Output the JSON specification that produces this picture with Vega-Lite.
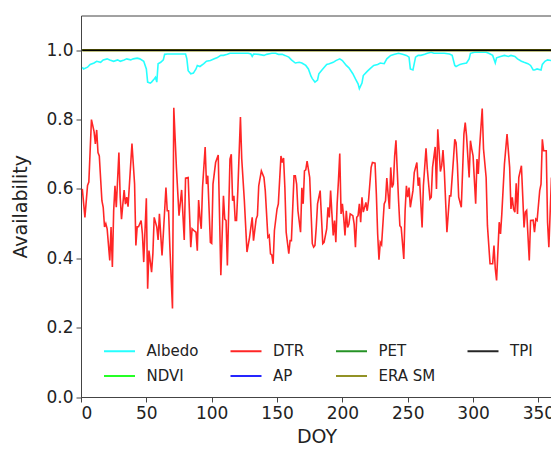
{
  "$schema": "https://vega.github.io/schema/vega-lite/v6.json",
  "width": 471,
  "height": 381.5,
  "autosize": {"type": "none"},
  "padding": {"left": 81, "top": 15.5, "right": 0, "bottom": 52},
  "background": "white",
  "config": {
    "view": {"stroke": "#444", "strokeWidth": 1},
    "font": "DejaVu Sans",
    "axis": {"labelFont": "DejaVu Sans", "titleFont": "DejaVu Sans", "labelColor": "#222", "titleColor": "#222", "domainColor": "#444", "tickColor": "#444", "grid": false, "labelFontSize": 17, "titleFontSize": 19, "titleFontWeight": "normal", "tickSize": 5, "labelPadding": 3}
  },
  "datasets": {
    "albedo": [
      {"doy":1,"value":0.951},{"doy":2,"value":0.946},{"doy":5,"value":0.951},{"doy":7,"value":0.959},{"doy":10,"value":0.963},{"doy":12,"value":0.968},{"doy":15,"value":0.965},{"doy":17,"value":0.972},{"doy":20,"value":0.975},{"doy":22,"value":0.972},{"doy":25,"value":0.968},{"doy":28,"value":0.972},{"doy":30,"value":0.968},{"doy":33,"value":0.972},{"doy":35,"value":0.975},{"doy":38,"value":0.972},{"doy":40,"value":0.975},{"doy":43,"value":0.977},{"doy":45,"value":0.975},{"doy":48,"value":0.968},{"doy":50,"value":0.946},{"doy":51,"value":0.908},{"doy":53,"value":0.905},{"doy":54,"value":0.908},{"doy":56,"value":0.917},{"doy":57,"value":0.922},{"doy":58,"value":0.908},{"doy":59,"value":0.961},{"doy":61,"value":0.965},{"doy":63,"value":0.972},{"doy":64,"value":0.988},{"doy":66,"value":0.989},{"doy":71,"value":0.989},{"doy":76,"value":0.989},{"doy":80,"value":0.989},{"doy":81,"value":0.975},{"doy":82,"value":0.941},{"doy":84,"value":0.932},{"doy":86,"value":0.934},{"doy":88,"value":0.946},{"doy":89,"value":0.956},{"doy":91,"value":0.953},{"doy":94,"value":0.961},{"doy":96,"value":0.968},{"doy":99,"value":0.97},{"doy":102,"value":0.975},{"doy":104,"value":0.978},{"doy":107,"value":0.985},{"doy":109,"value":0.985},{"doy":112,"value":0.988},{"doy":114,"value":0.991},{"doy":119,"value":0.991},{"doy":125,"value":0.991},{"doy":128,"value":0.991},{"doy":130,"value":0.989},{"doy":131,"value":0.982},{"doy":132,"value":0.989},{"doy":136,"value":0.988},{"doy":140,"value":0.985},{"doy":142,"value":0.988},{"doy":146,"value":0.991},{"doy":149,"value":0.991},{"doy":151,"value":0.988},{"doy":154,"value":0.988},{"doy":156,"value":0.985},{"doy":159,"value":0.98},{"doy":161,"value":0.972},{"doy":164,"value":0.963},{"doy":167,"value":0.965},{"doy":169,"value":0.963},{"doy":172,"value":0.956},{"doy":174,"value":0.946},{"doy":176,"value":0.925},{"doy":177,"value":0.918},{"doy":179,"value":0.908},{"doy":181,"value":0.914},{"doy":182,"value":0.932},{"doy":185,"value":0.946},{"doy":188,"value":0.959},{"doy":190,"value":0.961},{"doy":193,"value":0.965},{"doy":195,"value":0.97},{"doy":198,"value":0.975},{"doy":200,"value":0.97},{"doy":203,"value":0.956},{"doy":205,"value":0.949},{"doy":208,"value":0.932},{"doy":210,"value":0.917},{"doy":212,"value":0.903},{"doy":213,"value":0.889},{"doy":215,"value":0.905},{"doy":216,"value":0.927},{"doy":219,"value":0.939},{"doy":221,"value":0.946},{"doy":224,"value":0.956},{"doy":227,"value":0.959},{"doy":229,"value":0.963},{"doy":232,"value":0.961},{"doy":234,"value":0.975},{"doy":237,"value":0.985},{"doy":240,"value":0.988},{"doy":243,"value":0.991},{"doy":246,"value":0.988},{"doy":249,"value":0.985},{"doy":251,"value":0.98},{"doy":252,"value":0.946},{"doy":254,"value":0.943},{"doy":256,"value":0.98},{"doy":258,"value":0.985},{"doy":260,"value":0.985},{"doy":263,"value":0.988},{"doy":265,"value":0.991},{"doy":268,"value":0.994},{"doy":270,"value":0.991},{"doy":274,"value":0.991},{"doy":278,"value":0.991},{"doy":282,"value":0.989},{"doy":284,"value":0.985},{"doy":286,"value":0.956},{"doy":287,"value":0.953},{"doy":290,"value":0.959},{"doy":292,"value":0.961},{"doy":295,"value":0.963},{"doy":297,"value":0.975},{"doy":298,"value":0.991},{"doy":301,"value":0.994},{"doy":306,"value":0.994},{"doy":310,"value":0.994},{"doy":312,"value":0.991},{"doy":315,"value":0.985},{"doy":317,"value":0.963},{"doy":318,"value":0.978},{"doy":321,"value":0.982},{"doy":324,"value":0.985},{"doy":327,"value":0.982},{"doy":329,"value":0.985},{"doy":332,"value":0.982},{"doy":334,"value":0.975},{"doy":337,"value":0.968},{"doy":339,"value":0.965},{"doy":342,"value":0.961},{"doy":344,"value":0.956},{"doy":346,"value":0.943},{"doy":347,"value":0.943},{"doy":349,"value":0.946},{"doy":352,"value":0.943},{"doy":353,"value":0.959},{"doy":355,"value":0.968},{"doy":357,"value":0.972},{"doy":360,"value":0.97}
    ],
    "dtr": [
      {"doy":1,"value":0.60},{"doy":3,"value":0.518},{"doy":5,"value":0.61},{"doy":6,"value":0.62},{"doy":8,"value":0.80},{"doy":10,"value":0.765},{"doy":11,"value":0.73},{"doy":12,"value":0.77},{"doy":13,"value":0.705},{"doy":14,"value":0.695},{"doy":16,"value":0.566},{"doy":17,"value":0.547},{"doy":18,"value":0.49},{"doy":19,"value":0.50},{"doy":20,"value":0.485},{"doy":22,"value":0.394},{"doy":23,"value":0.49},{"doy":24,"value":0.375},{"doy":25,"value":0.537},{"doy":26,"value":0.609},{"doy":27,"value":0.547},{"doy":29,"value":0.705},{"doy":30,"value":0.576},{"doy":31,"value":0.513},{"doy":33,"value":0.597},{"doy":34,"value":0.556},{"doy":35,"value":0.576},{"doy":36,"value":0.549},{"doy":39,"value":0.731},{"doy":41,"value":0.614},{"doy":42,"value":0.437},{"doy":43,"value":0.491},{"doy":44,"value":0.491},{"doy":46,"value":0.509},{"doy":47,"value":0.47},{"doy":48,"value":0.389},{"doy":50,"value":0.573},{"doy":51,"value":0.312},{"doy":52,"value":0.422},{"doy":54,"value":0.36},{"doy":55,"value":0.413},{"doy":56,"value":0.518},{"doy":58,"value":0.49},{"doy":59,"value":0.453},{"doy":60,"value":0.528},{"doy":62,"value":0.408},{"doy":63,"value":0.47},{"doy":65,"value":0.604},{"doy":66,"value":0.537},{"doy":67,"value":0.537},{"doy":68,"value":0.432},{"doy":70,"value":0.255},{"doy":71,"value":0.834},{"doy":73,"value":0.662},{"doy":75,"value":0.523},{"doy":77,"value":0.597},{"doy":79,"value":0.453},{"doy":80,"value":0.631},{"doy":82,"value":0.633},{"doy":83,"value":0.533},{"doy":84,"value":0.432},{"doy":85,"value":0.485},{"doy":87,"value":0.478},{"doy":88,"value":0.475},{"doy":89,"value":0.422},{"doy":90,"value":0.568},{"doy":91,"value":0.518},{"doy":92,"value":0.485},{"doy":93,"value":0.604},{"doy":95,"value":0.721},{"doy":96,"value":0.614},{"doy":97,"value":0.638},{"doy":99,"value":0.446},{"doy":100,"value":0.443},{"doy":101,"value":0.614},{"doy":103,"value":0.676},{"doy":105,"value":0.698},{"doy":107,"value":0.351},{"doy":109,"value":0.58},{"doy":110,"value":0.513},{"doy":111,"value":0.509},{"doy":112,"value":0.379},{"doy":114,"value":0.686},{"doy":115,"value":0.70},{"doy":116,"value":0.566},{"doy":117,"value":0.58},{"doy":118,"value":0.509},{"doy":119,"value":0.509},{"doy":120,"value":0.595},{"doy":122,"value":0.807},{"doy":123,"value":0.686},{"doy":125,"value":0.566},{"doy":127,"value":0.418},{"doy":129,"value":0.461},{"doy":131,"value":0.518},{"doy":132,"value":0.451},{"doy":134,"value":0.513},{"doy":135,"value":0.523},{"doy":136,"value":0.609},{"doy":138,"value":0.652},{"doy":140,"value":0.633},{"doy":141,"value":0.595},{"doy":143,"value":0.461},{"doy":144,"value":0.466},{"doy":145,"value":0.413},{"doy":146,"value":0.41},{"doy":147,"value":0.384},{"doy":148,"value":0.48},{"doy":150,"value":0.542},{"doy":151,"value":0.557},{"doy":153,"value":0.695},{"doy":154,"value":0.676},{"doy":155,"value":0.689},{"doy":156,"value":0.604},{"doy":157,"value":0.475},{"doy":159,"value":0.413},{"doy":160,"value":0.451},{"doy":161,"value":0.451},{"doy":163,"value":0.638},{"doy":164,"value":0.638},{"doy":165,"value":0.614},{"doy":166,"value":0.537},{"doy":168,"value":0.475},{"doy":169,"value":0.603},{"doy":170,"value":0.557},{"doy":171,"value":0.652},{"doy":172,"value":0.655},{"doy":173,"value":0.68},{"doy":175,"value":0.633},{"doy":177,"value":0.442},{"doy":178,"value":0.432},{"doy":179,"value":0.437},{"doy":180,"value":0.489},{"doy":181,"value":0.557},{"doy":183,"value":0.595},{"doy":184,"value":0.518},{"doy":185,"value":0.442},{"doy":186,"value":0.446},{"doy":188,"value":0.485},{"doy":189,"value":0.547},{"doy":190,"value":0.518},{"doy":191,"value":0.595},{"doy":192,"value":0.528},{"doy":193,"value":0.466},{"doy":194,"value":0.509},{"doy":195,"value":0.446},{"doy":196,"value":0.557},{"doy":197,"value":0.624},{"doy":198,"value":0.702},{"doy":199,"value":0.528},{"doy":200,"value":0.557},{"doy":201,"value":0.518},{"doy":202,"value":0.466},{"doy":203,"value":0.537},{"doy":204,"value":0.489},{"doy":205,"value":0.499},{"doy":206,"value":0.528},{"doy":208,"value":0.523},{"doy":209,"value":0.499},{"doy":210,"value":0.432},{"doy":211,"value":0.518},{"doy":212,"value":0.523},{"doy":213,"value":0.557},{"doy":214,"value":0.504},{"doy":215,"value":0.576},{"doy":216,"value":0.533},{"doy":218,"value":0.561},{"doy":219,"value":0.537},{"doy":220,"value":0.566},{"doy":222,"value":0.662},{"doy":223,"value":0.676},{"doy":225,"value":0.674},{"doy":226,"value":0.585},{"doy":227,"value":0.47},{"doy":228,"value":0.396},{"doy":229,"value":0.446},{"doy":230,"value":0.439},{"doy":232,"value":0.557},{"doy":233,"value":0.566},{"doy":234,"value":0.631},{"doy":235,"value":0.585},{"doy":236,"value":0.542},{"doy":237,"value":0.662},{"doy":238,"value":0.604},{"doy":239,"value":0.614},{"doy":240,"value":0.695},{"doy":241,"value":0.74},{"doy":242,"value":0.652},{"doy":243,"value":0.566},{"doy":244,"value":0.494},{"doy":245,"value":0.489},{"doy":247,"value":0.398},{"doy":248,"value":0.537},{"doy":249,"value":0.609},{"doy":250,"value":0.576},{"doy":251,"value":0.604},{"doy":252,"value":0.547},{"doy":254,"value":0.595},{"doy":255,"value":0.647},{"doy":257,"value":0.676},{"doy":258,"value":0.609},{"doy":259,"value":0.633},{"doy":261,"value":0.489},{"doy":262,"value":0.609},{"doy":264,"value":0.717},{"doy":265,"value":0.657},{"doy":267,"value":0.571},{"doy":268,"value":0.576},{"doy":269,"value":0.662},{"doy":271,"value":0.721},{"doy":272,"value":0.60},{"doy":273,"value":0.772},{"doy":275,"value":0.65},{"doy":276,"value":0.667},{"doy":277,"value":0.712},{"doy":278,"value":0.652},{"doy":280,"value":0.475},{"doy":281,"value":0.528},{"doy":282,"value":0.58},{"doy":283,"value":0.58},{"doy":285,"value":0.686},{"doy":286,"value":0.743},{"doy":287,"value":0.733},{"doy":288,"value":0.671},{"doy":289,"value":0.576},{"doy":291,"value":0.547},{"doy":293,"value":0.758},{"doy":294,"value":0.791},{"doy":295,"value":0.753},{"doy":297,"value":0.633},{"doy":298,"value":0.739},{"doy":299,"value":0.715},{"doy":300,"value":0.695},{"doy":302,"value":0.557},{"doy":303,"value":0.686},{"doy":304,"value":0.643},{"doy":305,"value":0.719},{"doy":307,"value":0.832},{"doy":308,"value":0.715},{"doy":310,"value":0.633},{"doy":311,"value":0.494},{"doy":313,"value":0.384},{"doy":315,"value":0.384},{"doy":316,"value":0.437},{"doy":317,"value":0.37},{"doy":318,"value":0.336},{"doy":320,"value":0.504},{"doy":321,"value":0.47},{"doy":322,"value":0.528},{"doy":324,"value":0.671},{"doy":326,"value":0.758},{"doy":328,"value":0.662},{"doy":329,"value":0.542},{"doy":330,"value":0.576},{"doy":331,"value":0.542},{"doy":332,"value":0.533},{"doy":333,"value":0.616},{"doy":334,"value":0.528},{"doy":335,"value":0.633},{"doy":337,"value":0.667},{"doy":338,"value":0.58},{"doy":339,"value":0.489},{"doy":340,"value":0.533},{"doy":341,"value":0.538},{"doy":343,"value":0.394},{"doy":344,"value":0.509},{"doy":346,"value":0.51},{"doy":347,"value":0.475},{"doy":348,"value":0.513},{"doy":349,"value":0.509},{"doy":351,"value":0.595},{"doy":352,"value":0.614},{"doy":353,"value":0.743},{"doy":354,"value":0.71},{"doy":356,"value":0.71},{"doy":357,"value":0.504},{"doy":358,"value":0.432},{"doy":360,"value":0.633}
    ],
    "constant": [{"doy":1,"value":1.0},{"doy":365,"value":1.0}]
  },
  "encoding": {
    "x": {"field": "doy", "type": "quantitative", "scale": {"domain": [0, 360.4], "nice": false, "zero": false},
      "axis": {"title": "DOY", "values": [0,50,100,150,200,250,300,350], "titlePadding": 6}},
    "y": {"field": "value", "type": "quantitative", "scale": {"domain": [0, 1.1], "nice": false},
      "axis": {"title": "Availability", "values": [0,0.2,0.4,0.6,0.8,1.0], "format": ".1f", "titlePadding": 15}}
  },
  "layer": [
    {"data": {"name": "albedo"}, "mark": {"type": "line", "strokeWidth": 1.6, "opacity": 0.85, "clip": true},
      "encoding": {"color": {"datum": "Albedo", "type": "nominal",
        "scale": {"domain": ["Albedo","NDVI","DTR","AP","PET","ERA SM","TPI"], "range": ["#00ffff","#00ff00","#ff0000","#0000ff","#008000","#808000","#000000"]},
        "legend": {"orient": "none", "legendX": 22, "legendY": 319, "columns": 4, "symbolType": "stroke", "symbolSize": 961, "symbolStrokeWidth": 2, "symbolOpacity": 0.75, "labelFontSize": 15, "labelFont": "DejaVu Sans", "labelColor": "#222", "columnPadding": 27.5, "rowPadding": -7, "labelOffset": 10.5, "title": null, "padding": 0}}}},
    {"data": {"name": "constant"}, "mark": {"type": "line", "strokeWidth": 1.6, "clip": true}, "encoding": {"color": {"datum": "NDVI", "type": "nominal"}}},
    {"data": {"name": "dtr"}, "mark": {"type": "line", "strokeWidth": 1.6, "opacity": 0.85, "clip": true}, "encoding": {"color": {"datum": "DTR", "type": "nominal"}}},
    {"data": {"name": "constant"}, "mark": {"type": "line", "strokeWidth": 1.6, "clip": true}, "encoding": {"color": {"datum": "AP", "type": "nominal"}}},
    {"data": {"name": "constant"}, "mark": {"type": "line", "strokeWidth": 1.6, "clip": true}, "encoding": {"color": {"datum": "PET", "type": "nominal"}}},
    {"data": {"name": "constant"}, "mark": {"type": "line", "strokeWidth": 2.6, "clip": true}, "encoding": {"color": {"datum": "ERA SM", "type": "nominal"}}},
    {"data": {"name": "constant"}, "mark": {"type": "line", "strokeWidth": 1.6, "clip": true}, "encoding": {"color": {"datum": "TPI", "type": "nominal"}}}
  ]
}
